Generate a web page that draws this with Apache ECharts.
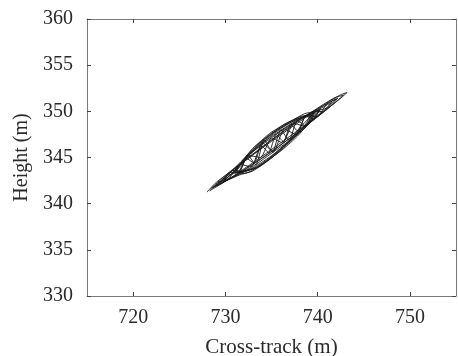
<!DOCTYPE html>
<html>
<head>
<meta charset="utf-8">
<script src="https://cdn.jsdelivr.net/npm/echarts@6/dist/echarts.min.js"></script>
<style>
  html, body { margin: 0; padding: 0; background: #fff; }
  #chart { width: 458px; height: 356px; }
</style>
</head>
<body>
<div id="chart"></div>
<script>
// Flight track projected on the cross-track / height plane, in sampling order.
const crossTrack = [
  728.0, 729.0, 731.0, 733.0, 735.0, 737.0, 739.0, 741.0, 742.4, 743.2,
  742.3, 740.5, 738.5, 736.5, 734.5, 732.5, 730.5, 729.0, 728.3,
  728.8, 729.2, 730.5, 732.0, 734.0, 736.0, 738.0, 740.0, 741.5,
  740.6, 739.0, 737.0, 735.0, 733.0, 731.0, 729.6,
  731.0, 731.8, 733.0, 734.6, 736.3, 737.8, 739.0, 739.6,
  739.0, 737.8, 736.3, 734.6, 733.0, 731.8, 731.1,
  731.0, 731.8, 733.0, 734.8, 736.6, 738.2, 739.2,
  738.8, 737.6, 736.0, 734.2, 732.6, 731.5,
  729.0, 730.2, 731.4, 732.6, 733.8, 735.0, 736.2, 737.4, 738.6, 739.8, 741.0, 742.0,
  741.0, 739.9, 738.8, 737.6, 736.4, 735.2, 734.0, 732.8, 731.6, 730.4, 729.2,
  729.3, 730.8, 732.8, 734.8, 736.8, 738.8, 740.8, 742.2,
  741.4, 739.6, 737.6, 735.6, 733.6, 731.6, 730.0,
  730.0, 730.8, 731.5, 732.3, 733.1, 733.9, 734.7, 735.5, 736.3, 737.1, 737.9, 738.7, 739.5, 740.3,
  740.0, 739.4, 738.4, 736.6, 734.8, 733.0, 731.8, 731.2,
  732.0, 733.4, 735.2, 737.0, 738.8, 739.6,
  738.0, 736.8, 735.2, 733.6, 732.4,
  728.5, 730.0, 732.0, 734.0, 736.0, 738.0, 740.0, 741.8, 742.8,
  741.6, 739.6, 737.6, 735.6, 733.6, 731.6, 729.6, 728.7,
  730.8, 731.6, 732.8, 734.6, 736.4, 738.2, 739.6, 740.2,
  740.5, 739.6, 738.7, 737.8, 736.9, 736.0, 735.1, 734.2, 733.3, 732.4, 731.5, 730.6, 729.7,
  731.0, 731.9, 733.2, 735.0, 736.8, 738.6, 739.6, 740.2,
  739.8, 738.8, 737.0, 735.2, 733.4, 731.8, 731.0,
  731.5, 732.6, 734.0, 735.8, 737.6, 739.0, 739.8,
  739.2, 737.8, 736.0, 734.4, 733.0, 731.9, 731.5
];
const height = [
  341.25, 342.3, 343.8, 345.3, 346.75, 348.15, 349.55, 350.9, 351.75, 352.05,
  351.25, 349.9, 348.4, 346.95, 345.5, 344.1, 342.75, 341.8, 341.4,
  341.85, 342.2, 343.35, 344.85, 346.4, 347.85, 349.1, 350.15, 350.95,
  350.0, 348.75, 346.9, 345.45, 344.05, 343.0, 342.25,
  343.5, 344.45, 346.0, 347.3, 348.55, 349.2, 349.45, 349.6,
  348.7, 347.3, 345.95, 344.7, 343.75, 343.45, 343.45,
  343.45, 344.6, 346.0, 347.6, 348.7, 349.45, 349.6,
  348.75, 347.35, 345.75, 344.4, 343.45, 343.1,
  342.0, 343.05, 343.45, 345.2, 345.0, 347.1, 346.6, 348.7, 348.4, 350.0, 350.35, 351.35,
  350.8, 349.4, 349.55, 347.5, 348.1, 345.6, 346.6, 344.0, 344.25, 342.75, 342.3,
  342.3, 343.6, 345.15, 346.75, 348.25, 349.6, 350.7, 351.45,
  350.55, 349.1, 347.55, 346.05, 344.65, 343.35, 342.45,
  342.7, 343.6, 343.55, 344.9, 344.4, 346.3, 345.5, 347.5, 346.7, 348.6, 347.8, 349.5, 349.2, 350.3,
  349.9, 349.05, 348.05, 346.45, 345.05, 343.9, 343.5, 343.55,
  344.7, 346.0, 347.55, 348.75, 349.6, 349.8,
  348.15, 346.65, 345.1, 343.95, 343.6,
  341.7, 343.05, 344.65, 346.15, 347.6, 349.0, 350.35, 351.45, 351.75,
  350.7, 349.1, 347.55, 346.1, 344.7, 343.4, 342.2, 341.75,
  343.3, 344.2, 345.6, 347.0, 348.2, 349.3, 349.85, 350.0,
  349.95, 349.95, 348.4, 349.0, 346.85, 348.0, 345.55, 346.9, 344.2, 345.3, 343.4, 343.4, 342.3,
  343.6, 344.6, 346.0, 347.5, 348.75, 349.75, 349.95, 350.1,
  349.45, 348.35, 346.75, 345.25, 344.0, 343.4, 343.35,
  343.9, 345.3, 346.8, 348.1, 349.05, 349.6, 349.75,
  349.0, 347.6, 346.0, 344.55, 343.55, 343.25, 343.4
];
const xTicks = [720, 730, 740, 750];
const yTicks = [330, 335, 340, 345, 350, 355, 360];

const track = crossTrack.map((x, i) => [x, height[i]]);

const font = '"Liberation Serif", "DejaVu Serif", serif';
const frame = '#7a7a7a';
const ink = '#2a2a2a';

function boxAxis(extra) {
  return Object.assign({
    type: 'value',
    axisLine: { show: true, onZero: false, lineStyle: { color: frame, width: 1 } },
    splitLine: { show: false }
  }, extra);
}

const tickStyle = (values) => ({
  show: true, inside: true, length: 4, customValues: values,
  lineStyle: { color: '#444', width: 1 }
});

const chart = echarts.init(document.getElementById('chart'));
chart.setOption({
  backgroundColor: '#fff',
  animation: false,
  grid: { left: 87, right: 2, top: 19, bottom: 60, containLabel: false, outerBoundsMode: 'none' },
  xAxis: [
    boxAxis({
      position: 'bottom', min: 715, max: 755,
      name: 'Cross-track (m)', nameLocation: 'middle', nameGap: 41,
      nameTextStyle: { fontFamily: font, fontSize: 21, color: ink },
      axisTick: tickStyle(xTicks),
      axisLabel: { customValues: xTicks, margin: 12, fontFamily: font, fontSize: 20, color: ink }
    }),
    boxAxis({
      position: 'top', min: 715, max: 755,
      axisTick: tickStyle(xTicks),
      axisLabel: { show: false }
    })
  ],
  yAxis: [
    boxAxis({
      position: 'left', min: 330, max: 360, interval: 5,
      name: 'Height (m)', nameLocation: 'middle', nameGap: 53,
      nameTextStyle: { fontFamily: font, fontSize: 20, color: ink },
      axisTick: tickStyle(yTicks),
      axisLabel: { customValues: yTicks, margin: 14, fontFamily: font, fontSize: 20, color: ink }
    }),
    boxAxis({
      position: 'right', min: 330, max: 360, interval: 5,
      axisTick: tickStyle(yTicks),
      axisLabel: { show: false }
    })
  ],
  series: [{
    type: 'line',
    data: track,
    xAxisIndex: 0,
    yAxisIndex: 0,
    showSymbol: false,
    smooth: 0.2,
    lineStyle: { color: '#1a1a1a', width: 1, opacity: 0.9 }
  }]
});
</script>
</body>
</html>
